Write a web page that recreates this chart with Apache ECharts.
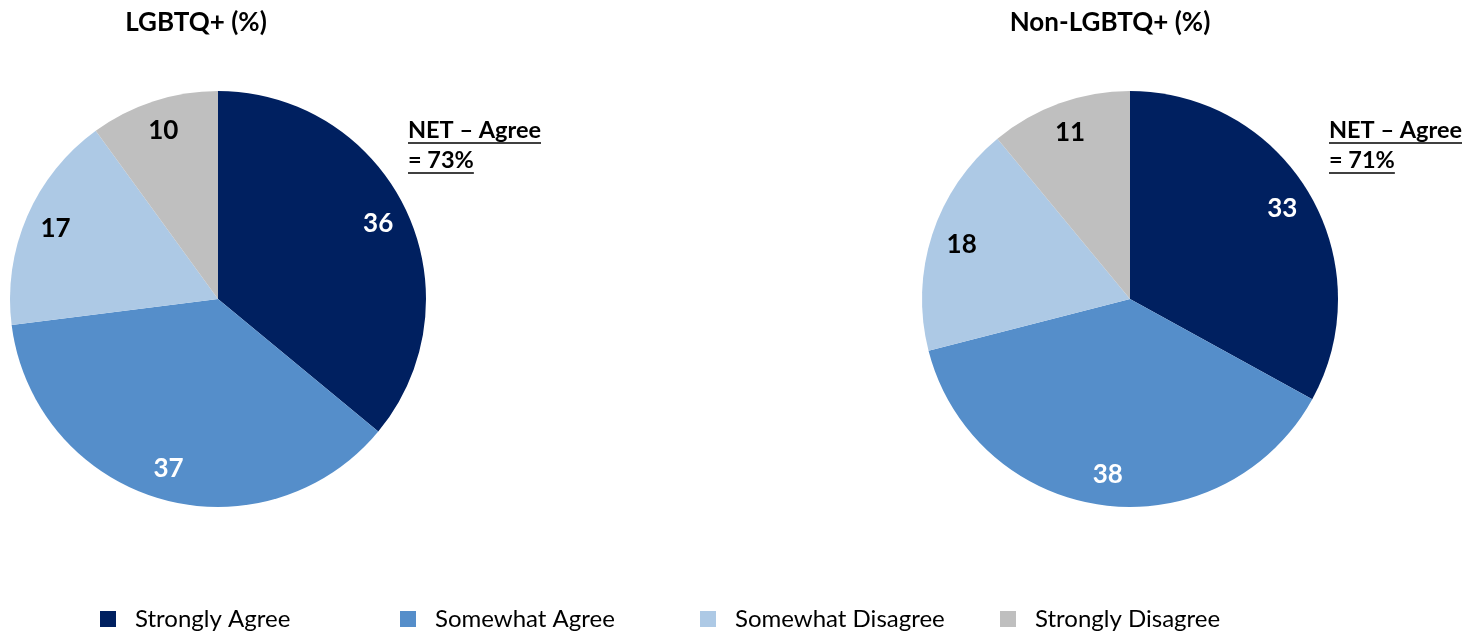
<!DOCTYPE html>
<html><head><meta charset="utf-8">
<script src="https://cdn.jsdelivr.net/npm/echarts@6/dist/echarts.min.js"></script>
<style>html,body{margin:0;padding:0;background:#fff}#c{width:1480px;height:632px}</style>
</head><body><div id="c"></div>
<script>
const categories = ['Strongly Agree', 'Somewhat Agree', 'Somewhat Disagree', 'Strongly Disagree'];
const lgbtqValues = [36, 37, 17, 10];
const nonLgbtqValues = [33, 38, 18, 11];
const chartTitles = ['LGBTQ+ (%)', 'Non-LGBTQ+ (%)'];
const netLabels = [['NET – Agree', '= 73%'], ['NET – Agree', '= 71%']];

const colors = ['#002060', '#558ECA', '#ADC9E5', '#BFBFBF'];
const labelColors = ['#ffffff', '#ffffff', '#000000', '#000000'];
const FONT = 'Lato';

const centers = [[218, 299], [1130, 299]];
const R = 208;

function pieData(vals) {
  return vals.map((v, i) => ({ name: categories[i], value: v, itemStyle: { color: colors[i] } }));
}
function labelData(vals) {
  return vals.map((v, i) => ({ name: categories[i], value: v,
    label: { color: labelColors[i] } }));
}

const series = [];
[lgbtqValues, nonLgbtqValues].forEach((vals, k) => {
  series.push({
    type: 'pie', center: centers[k], radius: [0, R], startAngle: 90, clockwise: true,
    data: pieData(vals), label: { show: false }, labelLine: { show: false },
    silent: true, animation: false
  });
  series.push({
    type: 'pie', center: centers[k], radius: [140, R], startAngle: 90, clockwise: true,
    data: labelData(vals), itemStyle: { color: 'rgba(0,0,0,0)' },
    label: { show: true, position: 'inside', formatter: '{c}', fontFamily: FONT, fontWeight: 'bold', fontSize: 26 },
    labelLine: { show: false }, silent: true, animation: false, legendHoverLink: false
  });
});

const legends = categories.map((c, i) => ({
  data: [{ name: c, itemStyle: { color: colors[i] } }],
  left: 100 + 300 * i, top: 607, padding: 0, itemWidth: 16, itemHeight: 16, icon: 'rect',
  selectedMode: false,
  textStyle: { fontFamily: FONT, fontSize: 24, color: '#000', padding: [0, 0, 0, 14] }
}));

const graphic = [];
const titleX = [196, 1110];
chartTitles.forEach((t, k) => {
  graphic.push({ type: 'text', x: titleX[k], y: 23, style: { text: t, align: 'center', verticalAlign: 'middle',
    font: 'bold 26px ' + FONT, fill: '#000' } });
});
const netX = [408, 1329];
const NETFONT = 'bold 23.5px ' + FONT;
netLabels.forEach((lines, k) => {
  lines.forEach((ln, j) => {
    const y = 130 + j * 30;
    graphic.push({ type: 'text', x: netX[k], y: y, style: { text: ln, align: 'left', verticalAlign: 'middle',
      font: NETFONT, fill: '#000' } });
  });
});

const chart = echarts.init(document.getElementById('c'));
chart.setOption({ animation: false, legend: legends, series: series, graphic: graphic });

const extra = [];
netLabels.forEach((lines, k) => {
  lines.forEach((ln, j) => {
    const w = echarts.format.getTextRect ? echarts.format.getTextRect(ln, NETFONT).width : ln.length * 12;
    const y = 130 + j * 30 + 13;
    extra.push({ type: 'line', shape: { x1: netX[k], y1: y, x2: netX[k] + w, y2: y }, style: { stroke: '#000', lineWidth: 1.5 } });
  });
});
chart.setOption({ graphic: graphic.concat(extra) });
</script></body></html>
